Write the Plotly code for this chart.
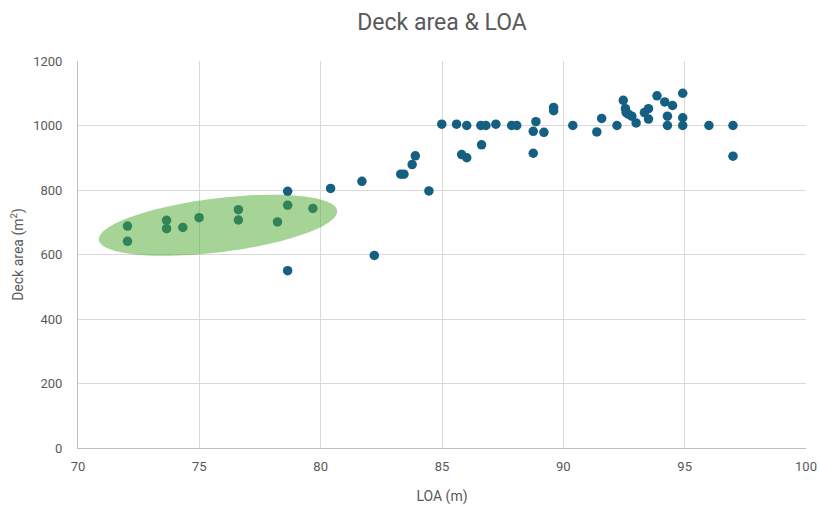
import numpy as np
import plotly.graph_objects as go

# Data: LOA (m) vs deck area (m²)
loa = [72.04, 72.04, 73.65, 73.65, 74.32, 74.99, 76.61, 76.61, 78.22, 78.64, 79.68,
       78.64, 78.64, 80.41, 81.7, 82.21, 83.3, 83.43, 83.77, 83.9, 84.46,
       84.99, 85.6, 85.81, 86.02, 86.02, 86.63, 86.6, 86.81, 87.22, 87.87, 88.08,
       88.76, 88.76, 88.87, 89.2, 89.6, 89.6, 90.39, 91.38, 91.58, 92.21, 92.47,
       92.56, 92.59, 92.68, 92.82, 93.0, 93.34, 93.51, 93.51, 93.86, 94.18, 94.5,
       94.29, 94.29, 94.92, 94.92, 94.92, 96.0, 96.99, 96.99]
deck_area = [688, 641, 706, 680, 684, 714, 739, 707, 701, 753, 743,
             796, 550, 805, 827, 597, 849, 849, 879, 906, 797,
             1004, 1004, 910, 900, 1000, 940, 1000, 1000, 1004, 1000, 1000,
             914, 982, 1012, 979, 1056, 1046, 1000, 980, 1022, 1000, 1078,
             1052, 1040, 1035, 1029, 1008, 1040, 1052, 1020, 1092, 1073, 1062,
             1029, 1000, 1100, 1024, 1000, 1000, 1000, 905]

x_ticks = [70, 75, 80, 85, 90, 95, 100]
y_ticks = [0, 200, 400, 600, 800, 1000, 1200]

# Highlight ellipse (data-space centre, pixel-space semi-axes and tilt)
ell_cx, ell_cy = 75.77, 690.6
ell_a_px, ell_b_px, ell_deg = 120, 27, 7

W, H = 819, 506
ml, mr, mt, mb = 78, 13, 61, 58
px_per_x = (W - ml - mr) / (x_ticks[-1] - x_ticks[0])
px_per_y = (H - mt - mb) / (y_ticks[-1] - y_ticks[0])

t = np.linspace(0, 2 * np.pi, 120)
th = np.deg2rad(ell_deg)
ex_px = ell_a_px * np.cos(t) * np.cos(th) - ell_b_px * np.sin(t) * np.sin(th)
ey_px = ell_a_px * np.cos(t) * np.sin(th) + ell_b_px * np.sin(t) * np.cos(th)
ex = ell_cx + ex_px / px_per_x
ey = ell_cy + ey_px / px_per_y
path = "M " + " L ".join(f"{a:.4f},{b:.3f}" for a, b in zip(ex, ey)) + " Z"

grey = "#595959"
font = "Roboto"

fig = go.Figure()
fig.add_trace(go.Scatter(
    x=loa, y=deck_area, mode="markers",
    marker=dict(color="#156082", size=9.5, line=dict(width=0)),
    showlegend=False, hoverinfo="x+y"))

fig.add_shape(type="path", path=path, xref="x", yref="y",
              fillcolor="rgba(78,167,46,0.5)", line=dict(width=0), layer="above")

fig.update_layout(
    width=W, height=H,
    margin=dict(l=ml, r=mr, t=mt, b=mb, autoexpand=False),
    paper_bgcolor="white", plot_bgcolor="white",
    font=dict(family=font, color=grey, size=13),
    title=dict(text="Deck area & LOA", x=0.5, xref="paper", xanchor="center",
               y=1 - 22 / H, yref="container", yanchor="middle",
               font=dict(size=23, color=grey, family=font), automargin=False),
    xaxis=dict(range=[x_ticks[0], x_ticks[-1]], tickvals=x_ticks, showgrid=True,
               gridcolor="#D9D9D9", gridwidth=1, zeroline=False, automargin=False,
               showline=True, linecolor="#BFBFBF", linewidth=1, ticks="",
               ticklabelstandoff=6,
               title=dict(text="LOA (m)", font=dict(size=14, color=grey), standoff=18),
               tickfont=dict(size=13, color=grey)),
    yaxis=dict(range=[y_ticks[0], y_ticks[-1]], tickvals=y_ticks, showgrid=True,
               gridcolor="#D9D9D9", gridwidth=1, zeroline=False, automargin=False,
               showline=True, linecolor="#BFBFBF", linewidth=1, ticks="",
               ticklabelstandoff=12,
               title=dict(text="Deck area (m<sup>2</sup>)", font=dict(size=14, color=grey), standoff=6),
               tickfont=dict(size=13, color=grey)),
)

fig.write_html("out.html", config={"displayModeBar": False},
               post_script="document.body.style.margin='0';document.body.style.overflow='hidden';")
